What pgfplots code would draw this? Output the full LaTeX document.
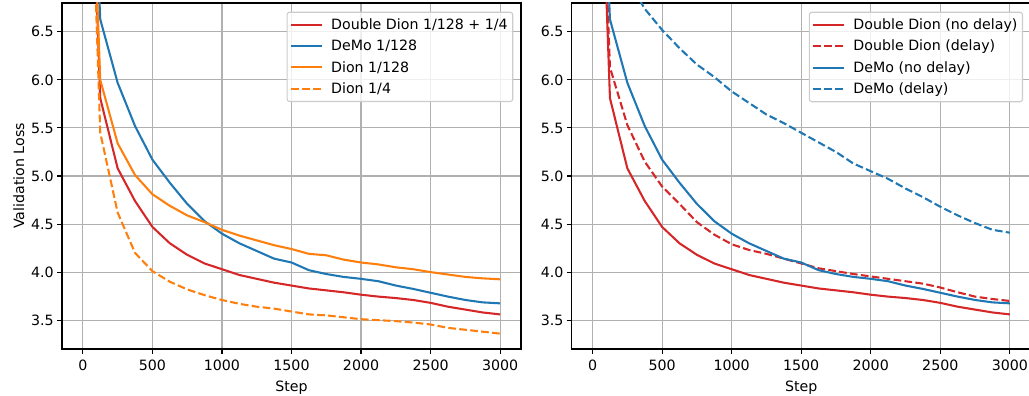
\documentclass[border=0pt]{standalone}
\usepackage{fontspec}
\setmainfont{DejaVu Sans}
\usepackage{pgfplots}
\usepackage{pgfplotstable}
\pgfplotsset{compat=1.18}
\definecolor{tred}{HTML}{D62728}
\definecolor{tblue}{HTML}{1F77B4}
\definecolor{torange}{HTML}{FF7F0E}
\definecolor{gridgray}{HTML}{B0B0B0}
\definecolor{legframe}{HTML}{CCCCCC}

\pgfplotstableread{
step ddion  demo   dionA  dionB  ddiondelay demodelay
0    10.9   10.9   10.9   10.9   10.9   10.9
125  5.81   6.63   6.00   5.45   6.13   8.60
250  5.08   5.97   5.34   4.62   5.53   7.05
375  4.74   5.52   5.01   4.20   5.15   6.74
500  4.47   5.17   4.81   4.01   4.89   6.52
625  4.30   4.93   4.69   3.90   4.71   6.33
750  4.18   4.71   4.59   3.82   4.52   6.16
875  4.09   4.53   4.52   3.76   4.39   6.03
1000 4.03   4.40   4.44   3.71   4.29   5.88
1125 3.97   4.30   4.38   3.67   4.23   5.76
1250 3.93   4.22   4.33   3.64   4.19   5.64
1375 3.89   4.14   4.28   3.62   4.14   5.55
1500 3.86   4.10   4.24   3.59   4.09   5.45
1625 3.83   4.02   4.19   3.56   4.04   5.35
1750 3.81   3.98   4.175  3.55   4.01   5.25
1875 3.79   3.95   4.13   3.53   3.98   5.13
2000 3.765  3.93   4.10   3.51   3.955  5.05
2125 3.745  3.905  4.08   3.50   3.93   4.97
2250 3.73   3.86   4.05   3.49   3.905  4.87
2375 3.71   3.825  4.03   3.475  3.88   4.78
2500 3.68   3.785  4.00   3.455  3.84   4.68
2625 3.64   3.745  3.975  3.42   3.79   4.59
2750 3.61   3.71   3.95   3.40   3.745  4.51
2875 3.58   3.685  3.935  3.38   3.72   4.44
3000 3.56   3.675  3.925  3.36   3.70   4.41
}\lossdata

\pgfplotsset{
  panel/.style={
    scale only axis, width=459pt, height=346pt,
    xmin=-150, xmax=3150, ymin=3.2, ymax=6.8,
    xtick={0,500,...,3000}, ytick={3.5,4.0,...,6.5},
    scaled x ticks=false,
    grid=major, major grid style={gridgray, line width=1.1pt},
    axis line style={black, line width=1.1pt},
    tick style={black, line width=1.1pt},
    major tick length=4.8pt,
    tick align=outside, xtick pos=bottom, ytick pos=left,
    /pgf/number format/assume math mode=true,
    /pgf/number format/1000 sep={},
    yticklabel style={/pgf/number format/.cd, fixed, fixed zerofill, precision=1},
    xticklabel style={yshift=-2.5pt},
    ticklabel style={font=\fontsize{14.2}{16}\selectfont},
    label style={font=\fontsize{14.2}{16}\selectfont},
    xlabel={Step},
    xlabel style={yshift=-4pt},
    legend cell align=left,
    legend image code/.code={\draw[##1] (0pt,0pt) -- (31pt,0pt);},
    legend style={at={(rel axis cs:1,1)}, xshift=-7.7pt, yshift=-8.7pt,
      anchor=north east, draw=legframe, line width=1.1pt, rounded corners=2.5pt,
      fill=white, fill opacity=0.8, text opacity=1,
      font=\fontsize{14.2}{16}\selectfont, row sep=5.1pt,
      inner xsep=3pt, inner ysep=4.5pt,
      /tikz/every odd column/.append style={column sep=6pt}},
    every axis plot/.append style={line width=2.07pt, line join=round},
  },
  dashed line/.style={dash pattern=on 7.7pt off 3.3pt},
}

\begin{document}
\begin{tikzpicture}
\useasboundingbox (0,0) rectangle (1029pt,396pt);
\begin{axis}[panel, at={(62pt,47pt)}, anchor=south west, ylabel={Validation Loss}]
\addplot[tred] table[x=step, y=ddion] {\lossdata};
\addlegendentry{Double Dion 1/128 + 1/4}
\addplot[tblue] table[x=step, y=demo] {\lossdata};
\addlegendentry{DeMo 1/128}
\addplot[torange] table[x=step, y=dionA] {\lossdata};
\addlegendentry{Dion 1/128}
\addplot[torange, dashed line] table[x=step, y=dionB] {\lossdata};
\addlegendentry{Dion 1/4}
\end{axis}
\begin{axis}[panel, at={(571.7pt,47pt)}, anchor=south west]
\addplot[tred] table[x=step, y=ddion] {\lossdata};
\addlegendentry{Double Dion (no delay)}
\addplot[tred, dashed line] table[x=step, y=ddiondelay] {\lossdata};
\addlegendentry{Double Dion (delay)}
\addplot[tblue] table[x=step, y=demo] {\lossdata};
\addlegendentry{DeMo (no delay)}
\addplot[tblue, dashed line] table[x=step, y=demodelay] {\lossdata};
\addlegendentry{DeMo (delay)}
\end{axis}
\end{tikzpicture}
\end{document}
